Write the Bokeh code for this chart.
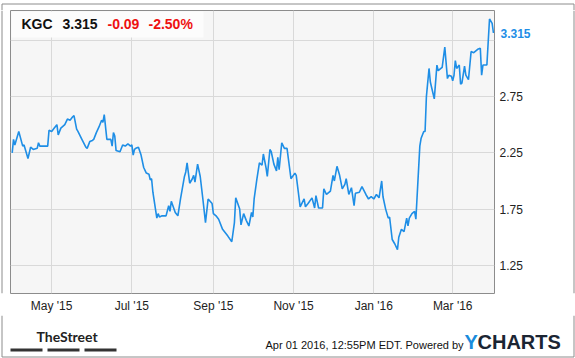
from datetime import datetime
import pandas as pd
from bokeh.plotting import figure
from bokeh.layouts import column, row
from bokeh.models import (Range1d, FixedTicker, DatetimeTickFormatter, Label, BoxAnnotation,
                          ColumnDataSource, LinearAxis)
from bokeh.embed import file_html
from bokeh.resources import INLINE

# ---------------- data ----------------
symbol = "KGC"
last_price = 3.315
last_price_text = "3.315"
change_abs = "-0.09"
change_pct = "-2.50%"
y_ticks = [1.25, 1.75, 2.25, 2.75, 3.25]
y_tick_labels_shown = [1.25, 1.75, 2.25, 2.75]
x_tick_dates = ["2015-05-01", "2015-07-01", "2015-09-01", "2015-11-01", "2016-01-01", "2016-03-01"]
footer_text = "Apr 01 2016, 12:55PM EDT. Powered by"

dates = [
    "2015-04-01", "2015-04-02", "2015-04-03", "2015-04-06", "2015-04-09", "2015-04-10", "2015-04-11", "2015-04-13",
    "2015-04-15", "2015-04-17", "2015-04-20", "2015-04-21", "2015-04-22", "2015-04-28", "2015-04-29",
    "2015-05-01", "2015-05-03", "2015-05-05", "2015-05-06", "2015-05-08", "2015-05-11", "2015-05-13", "2015-05-15",
    "2015-05-17", "2015-05-18", "2015-05-20", "2015-05-21", "2015-05-24", "2015-05-27", "2015-05-28", "2015-05-30",
    "2015-06-01", "2015-06-02", "2015-06-04", "2015-06-06", "2015-06-08", "2015-06-09", "2015-06-10", "2015-06-12",
    "2015-06-15", "2015-06-16", "2015-06-17", "2015-06-18", "2015-06-19", "2015-06-22", "2015-06-24", "2015-06-26",
    "2015-06-28", "2015-06-30",
    "2015-07-01", "2015-07-02", "2015-07-03", "2015-07-04", "2015-07-06", "2015-07-08", "2015-07-10", "2015-07-12",
    "2015-07-14", "2015-07-15", "2015-07-16", "2015-07-17", "2015-07-20", "2015-07-21", "2015-07-22", "2015-07-24",
    "2015-07-27", "2015-07-29", "2015-07-30", "2015-07-31",
    "2015-08-03", "2015-08-05", "2015-08-07", "2015-08-10", "2015-08-11", "2015-08-12", "2015-08-14", "2015-08-16",
    "2015-08-17", "2015-08-18", "2015-08-20", "2015-08-22", "2015-08-24", "2015-08-26", "2015-08-28", "2015-08-31",
    "2015-09-01", "2015-09-03", "2015-09-05", "2015-09-08", "2015-09-12", "2015-09-15", "2015-09-17", "2015-09-18",
    "2015-09-21", "2015-09-22", "2015-09-24", "2015-09-26", "2015-09-28", "2015-09-30",
    "2015-10-01", "2015-10-02", "2015-10-04", "2015-10-06", "2015-10-08", "2015-10-09", "2015-10-11", "2015-10-12",
    "2015-10-14", "2015-10-15", "2015-10-17", "2015-10-19", "2015-10-20", "2015-10-21", "2015-10-23", "2015-10-25",
    "2015-10-27", "2015-10-30",
    "2015-11-02", "2015-11-03", "2015-11-06", "2015-11-09", "2015-11-10", "2015-11-12", "2015-11-15", "2015-11-17",
    "2015-11-18", "2015-11-20", "2015-11-23", "2015-11-24", "2015-11-26", "2015-11-29",
    "2015-12-01", "2015-12-02", "2015-12-04", "2015-12-06", "2015-12-08", "2015-12-10", "2015-12-11", "2015-12-13",
    "2015-12-15", "2015-12-17", "2015-12-18", "2015-12-21", "2015-12-23", "2015-12-26", "2015-12-28", "2015-12-30",
    "2016-01-01", "2016-01-03", "2016-01-05", "2016-01-07", "2016-01-08", "2016-01-10", "2016-01-12", "2016-01-13",
    "2016-01-15", "2016-01-17", "2016-01-19", "2016-01-20", "2016-01-22", "2016-01-24", "2016-01-26", "2016-01-27",
    "2016-01-28", "2016-01-30",
    "2016-02-01", "2016-02-02", "2016-02-05", "2016-02-06", "2016-02-08", "2016-02-09", "2016-02-10", "2016-02-12",
    "2016-02-13", "2016-02-16", "2016-02-18", "2016-02-19", "2016-02-21", "2016-02-22", "2016-02-24", "2016-02-26",
    "2016-02-27", "2016-02-29",
    "2016-03-01", "2016-03-02", "2016-03-03", "2016-03-04", "2016-03-06", "2016-03-07", "2016-03-08", "2016-03-10",
    "2016-03-11", "2016-03-13", "2016-03-15", "2016-03-17", "2016-03-20", "2016-03-22", "2016-03-23", "2016-03-24",
    "2016-03-27", "2016-03-29", "2016-03-31",
    "2016-04-01",
]
prices = [
    2.25, 2.37, 2.32, 2.44, 2.31, 2.32, 2.28, 2.20,
    2.30, 2.28, 2.29, 2.34, 2.31, 2.31, 2.45,
    2.44, 2.47, 2.50, 2.41, 2.47, 2.50, 2.55, 2.54,
    2.57, 2.58, 2.46, 2.44, 2.37, 2.30, 2.29, 2.35,
    2.36, 2.37, 2.43, 2.48, 2.54, 2.52, 2.59, 2.37,
    2.37, 2.31, 2.43, 2.40, 2.27, 2.26, 2.32, 2.31,
    2.33, 2.31,
    2.32, 2.23, 2.28, 2.29, 2.30, 2.23, 2.12, 2.07,
    2.06, 2.01, 2.02, 1.90, 1.67, 1.71, 1.68, 1.69,
    1.69, 1.78, 1.73, 1.82,
    1.72, 1.69, 1.84, 2.04, 2.08, 2.16, 1.98, 2.02,
    2.05, 1.99, 2.15, 2.04, 1.84, 1.63, 1.84, 1.80,
    1.71, 1.69, 1.66, 1.57, 1.51, 1.46, 1.63, 1.85,
    1.75, 1.61, 1.71, 1.65, 1.60, 1.72,
    1.68, 1.84, 2.01, 2.16, 2.14, 2.24, 2.12, 2.04,
    2.28, 2.26, 2.15, 2.09, 2.21, 2.10, 2.34, 2.29,
    2.29, 2.02,
    2.07, 2.05, 1.77, 1.84, 1.77, 1.80, 1.85, 1.76,
    1.87, 1.76, 1.76, 1.93, 1.88, 1.91,
    2.05, 2.00, 2.13, 2.05, 1.93, 1.97, 2.02, 1.88,
    1.94, 1.78, 1.89, 1.90, 1.95, 1.88, 1.84, 1.86,
    1.84, 1.88, 1.85, 2.00, 1.86, 1.75, 1.67, 1.68,
    1.48, 1.44, 1.39, 1.50, 1.57, 1.55, 1.67, 1.60,
    1.67, 1.71,
    1.73, 1.66, 2.31, 2.38, 2.44, 2.44, 2.75, 3.00,
    2.88, 2.73, 3.03, 2.98, 3.00, 3.01, 3.19, 2.91,
    2.94, 2.93,
    2.89, 2.94, 3.07, 3.00, 3.03, 2.86, 2.87, 3.02,
    2.94, 2.90, 3.15, 3.14, 3.17, 3.18, 2.94, 3.03,
    3.03, 3.44, 3.40,
    3.315,
]
assert len(dates) == len(prices)

# ---------------- styling ----------------
FONT = "Liberation Sans"
LINE = "#1e8ee6"
FRAME = "#8c8c8c"
GRID = "#d9d9d9"


def strip(w, h):
    """A blank figure whose data units are its own pixels (y downward)."""
    f = figure(width=w, height=h, x_range=Range1d(0, w), y_range=Range1d(h, 0),
               output_backend="svg", toolbar_location=None,
               min_border=0, min_border_left=0, min_border_right=0,
               min_border_top=0, min_border_bottom=0,
               background_fill_color="white", border_fill_color="white",
               outline_line_color=None)
    f.axis.visible = False
    f.grid.visible = False
    return f


# ---------------- main chart ----------------
src = ColumnDataSource(dict(date=pd.to_datetime(dates), price=prices))

p = figure(
    width=529, height=305, x_axis_type="datetime", y_axis_location="right",
    x_range=Range1d(datetime(2015, 3, 30, 17), datetime(2016, 4, 1, 19)),
    y_range=Range1d(1.0, 3.515),
    output_backend="svg", toolbar_location=None,
    min_border_left=0, min_border_right=45, min_border_top=0, min_border_bottom=20,
    background_fill_color="#f6f6f6", border_fill_color="white",
    outline_line_color=FRAME, outline_line_width=1,
)

p.line("date", "price", source=src, line_color=LINE, line_width=1.6)

xt = [pd.Timestamp(d).value / 1e6 for d in x_tick_dates]
p.xaxis.ticker = FixedTicker(ticks=xt)
p.xaxis.formatter = DatetimeTickFormatter(
    days="%b '%y", months="%b '%y", years="%b '%y", hours="%b '%y",
)
p.yaxis.ticker = FixedTicker(ticks=y_tick_labels_shown)
p.xgrid.ticker = FixedTicker(ticks=xt)
p.ygrid.ticker = FixedTicker(ticks=y_ticks)

# second right axis carrying the last-price tag
tag_axis = LinearAxis(ticker=FixedTicker(ticks=[last_price]))
tag_axis.major_label_overrides = {last_price: last_price_text}
p.add_layout(tag_axis, "right")

for ax in (p.xaxis[0], p.yaxis[0], tag_axis):
    ax.axis_line_color = None
    ax.major_tick_line_color = None
    ax.minor_tick_line_color = None
    ax.major_tick_in = 0
    ax.major_tick_out = 0
    ax.major_label_text_font = FONT
    ax.major_label_text_font_size = "12px"
    ax.major_label_text_color = "#222222"
    ax.major_label_standoff = 5

tag_axis.major_label_text_color = LINE
tag_axis.major_label_text_font_style = "bold"
tag_axis.major_label_standoff = -25

p.xgrid.grid_line_color = GRID
p.ygrid.grid_line_color = GRID

# header box (inside frame, canvas px)
p.add_layout(BoxAnnotation(left=1, right=193, top=1, bottom=27,
                           left_units="canvas", right_units="canvas",
                           top_units="canvas", bottom_units="canvas",
                           fill_color="#fcfcfc", fill_alpha=1, line_color=None))


def lab(fig, x, y, text, size, color, bold=False, font=FONT, **kw):
    fig.add_layout(Label(x=x, y=y, x_units="canvas", y_units="canvas", text=text,
                         text_font=font, text_font_size=size, text_color=color,
                         text_font_style="bold" if bold else "normal",
                         text_align="left", text_baseline="middle", **kw))


lab(p, 11, 13.5, symbol, "14px", "#111111", True)
lab(p, 52, 13.5, last_price_text, "14px", "#111111", True)
lab(p, 97, 13.5, change_abs, "14px", "#ee1111", True)
lab(p, 138, 13.5, change_pct, "14px", "#ee1111", True)

# ---------------- frame strips (outer border) ----------------
top = strip(575, 10)
top.segment(x0=[1.5, 1.5, 573.5], y0=[1.5, 1.5, 1.5], x1=[573.5, 1.5, 573.5], y1=[1.5, 10, 10],
            line_color=FRAME, line_width=1)

left = strip(10, 305)
left.segment(x0=[1.5], y0=[0], x1=[1.5], y1=[305], line_color=FRAME, line_width=1)

right = strip(36, 305)
right.segment(x0=[34.5], y0=[0], x1=[34.5], y1=[305], line_color=FRAME, line_width=1)

# ---------------- footer ----------------
foot = strip(575, 43)
foot.segment(x0=[1.5, 573.5, 1.5], y0=[0, 0, 41.5], x1=[1.5, 573.5, 573.5], y1=[41.5, 41.5, 41.5],
             line_color=FRAME, line_width=1)
foot.quad(left=[10, 47, 84], right=[42, 79, 116], top=[33, 33, 33], bottom=[36, 36, 36],
          fill_color="#333333", line_color=None)
lab(foot, 36, 20.5, "TheStreet", "14px", "#222222", True, font="Lato")
lab(foot, 265, 29.3, footer_text, "11px", "#111111")
lab(foot, 464, 26.5, "Y", "20px", "#1a8cdc", True)
lab(foot, 477, 26.5, "CHARTS", "20px", "#1b2533", True)

layout = column(top, row(left, p, right), foot)
open("out.html", "w").write(file_html(layout, INLINE))
